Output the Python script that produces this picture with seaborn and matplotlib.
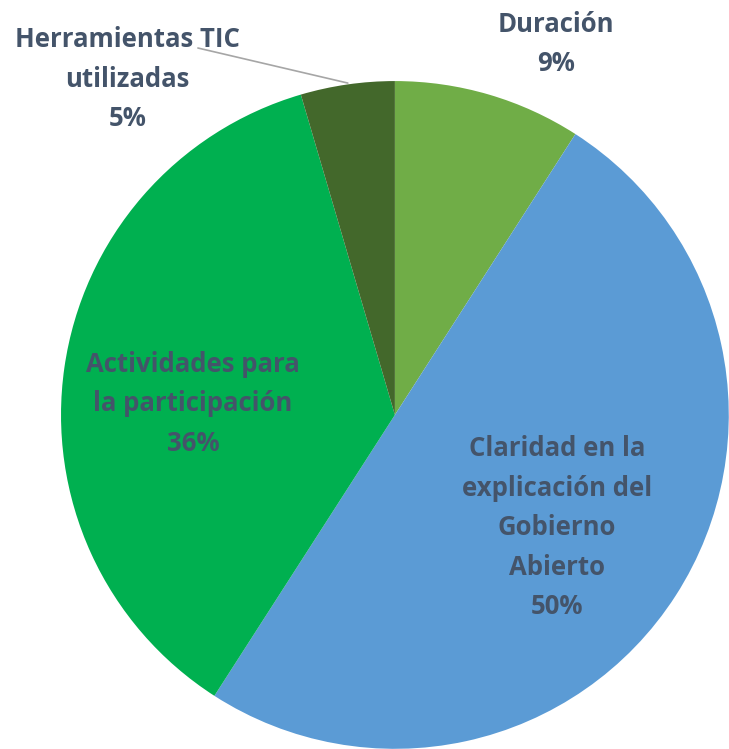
import matplotlib
matplotlib.use("Agg")
import matplotlib.pyplot as plt
import seaborn as sns

# data
categories = ["Duración", "Claridad en la\nexplicación del\nGobierno\nAbierto",
              "Actividades para\nla participación", "Herramientas TIC\nutilizadas"]
counts = [2, 11, 8, 1]
colors = ["#70AD47", "#5B9BD5", "#00B050", "#43682B"]

sns.set_theme(style="white")
plt.rcParams["font.family"] = ["Open Sans", "DejaVu Sans"]

fig = plt.figure(figsize=(7.29, 7.49), dpi=100)
ax = fig.add_axes([0.0837, 0.0, 0.916, 0.892])

wedges, _ = ax.pie(counts, colors=colors, startangle=90, counterclock=False,
                   wedgeprops=dict(linewidth=0))
ax.set_xlim(-1, 1)
ax.set_ylim(-1, 1)
ax.set_aspect("equal")
ax.axis("off")

total = sum(counts)
pcts = [f"{round(c / total * 100)}%" for c in counts]

# label positions (data coords)
label_pos = [(0.482, 1.111), (0.485, -0.338), (-0.605, 0.033), (-0.80, 1.006)]
for name, pct, (x, y) in zip(categories, pcts, label_pos):
    ax.text(x, y, f"{name}\n{pct}", ha="center", va="center", fontsize=18.5,
            fontweight="bold", color="#44546A", linespacing=1.6, clip_on=False)

# leader line for the small slice
ax.plot([-0.59, -0.141], [1.099, 0.994], color="#A6A6A6", lw=1.2, clip_on=False)

fig.savefig("out.png", dpi=100)
